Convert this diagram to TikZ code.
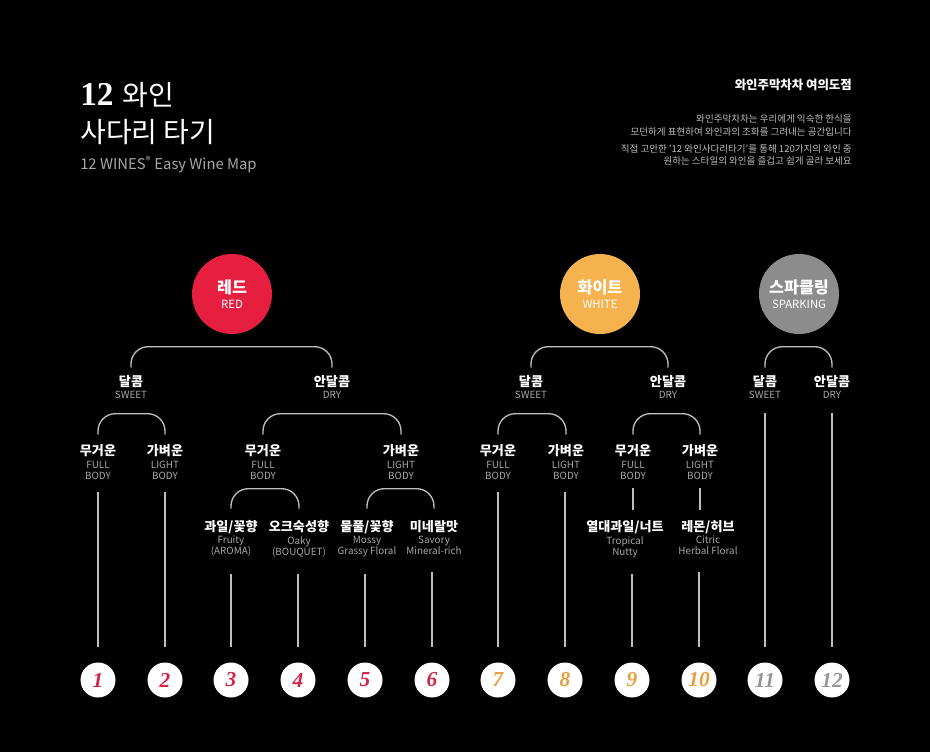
\documentclass[tikz,border=0pt]{standalone}
\usepackage{fontspec}
\setmainfont{Noto Sans CJK KR}
\newfontfamily\numfont{Liberation Serif}

\definecolor{winered}{RGB}{230,30,64}
\definecolor{wineorange}{RGB}{246,178,78}
\definecolor{winegray}{RGB}{140,140,140}
\definecolor{numred}{RGB}{214,36,72}
\definecolor{numorange}{RGB}{232,160,60}
\definecolor{numgray}{RGB}{150,150,150}
\definecolor{wiregray}{RGB}{190,190,190}
\definecolor{engray}{RGB}{168,168,168}
\definecolor{notegray}{RGB}{188,188,188}

\begin{document}
\begin{tikzpicture}[x=0.75pt, y=-0.75pt,
    wine/.style={circle, minimum size=60pt, inner sep=0pt, text=white, align=center},
    kr/.style={font=\bfseries\fontsize{9.8}{10}\selectfont, text=white, anchor=base,
      inner sep=0pt, text height=7pt, text depth=1pt},
    en/.style={font=\fontsize{7.4}{8.3}\selectfont, text=engray, align=center,
      anchor=north, inner sep=0pt},
    num/.style={circle, fill=white, minimum size=26.25pt, inner sep=0pt, outer sep=11.6pt,
      font=\numfont\bfseries\itshape\fontsize{16}{16}\selectfont},
    wire/.style={draw=wiregray, line width=1pt},
    arch/.style={wire, rounded corners=13pt, shorten <=#1, shorten >=#1},
    stem/.style={wire, shorten <=#1}]

  % Black page
  \fill [black] (0,0) rectangle (930,752);
  \useasboundingbox (0,0) rectangle (930,752);

  % Title block
  \node [anchor=base west, inner sep=0pt, text=white, font=\fontsize{21}{22}\selectfont] (title) at (80,106)
    {{\numfont\bfseries\fontsize{25}{25}\selectfont 12}\hspace{2pt} 와인};
  \node [anchor=base west, inner sep=0pt, text=white, font=\fontsize{21}{22}\selectfont] (title2) at (80,143) {사다리 타기};
  \node [anchor=base west, inner sep=0pt, text=engray, font=\fontsize{11.1}{12}\selectfont] (subtitle) at (80,170)
    {12 WINES\textsuperscript{®} Easy Wine Map};

  % Shop note, right aligned
  \node [anchor=base east, inner sep=0pt, text=white, font=\bfseries\fontsize{9.3}{10}\selectfont] (shop) at (852,90) {와인주막차차 여의도점};
  \foreach \n/\y/\txt in {
      note1/123/{와인주막차차는 우리에게 익숙한 한식을},
      note2/136/{모던하게 표현하여 와인과의 조화를 그려내는 공간입니다},
      note3/153/{직접 고안한 '12 와인사다리타기'를 통해 120가지의 와인 중},
      note4/165/{원하는 스타일의 와인을 즐겁고 쉽게 골라 보세요}} {
    \node [anchor=base east, inner sep=0pt, text=notegray, font=\fontsize{7.15}{8}\selectfont] (\n) at (852,\y) {\txt};
  }

  % Wine type circles
  \node [wine, fill=winered] (red) at (232,294)
    {{\bfseries\fontsize{12.2}{12}\selectfont 레드}\\[-1pt]{\fontsize{8.5}{10}\selectfont RED}};
  \node [wine, fill=wineorange] (white) at (600,294)
    {{\bfseries\fontsize{12.2}{12}\selectfont 화이트}\\[-1pt]{\fontsize{8.5}{10}\selectfont WHITE}};
  \node [wine, fill=winegray] (spark) at (799,294)
    {{\bfseries\fontsize{12.2}{12}\selectfont 스파클링}\\[-1pt]{\fontsize{8.5}{10}\selectfont SPARKING}};

  % First split: sweet / dry
  \foreach \n/\x/\ko/\en in {rs/131/달콤/SWEET, rd/332/안달콤/DRY,
      ws/531/달콤/SWEET, wd/668/안달콤/DRY,
      ss/765/달콤/SWEET, sd/832/안달콤/DRY} {
    \node [kr] (\n) at (\x,386) {\ko};
    \node [en] (\n-en) at (\x,391) {\en};
  }

  % Second split: full / light body
  \foreach \n/\x/\ko/\en in {rsf/98/무거운/{FULL\\BODY}, rsl/165/가벼운/{LIGHT\\BODY},
      rdf/263/무거운/{FULL\\BODY}, rdl/401/가벼운/{LIGHT\\BODY},
      wsf/498/무거운/{FULL\\BODY}, wsl/566/가벼운/{LIGHT\\BODY},
      wdf/633/무거운/{FULL\\BODY}, wdl/700/가벼운/{LIGHT\\BODY}} {
    \node [kr] (\n) at (\x,455) {\ko};
    \node [en] (\n-en) at (\x,461) {\en};
  }

  % Third split: aroma
  \foreach \n/\x/\ko/\en in {t3/231/{과일/꽃향}/{Fruity\\(AROMA)}, t4/299/오크숙성향/{Oaky\\(BOUQUET)},
      t5/367/{물풀/꽃향}/{Mossy\\Grassy Floral}, t6/434/미네랄맛/{Savory\\Mineral-rich},
      t9/625/{열대과일/너트}/{Tropical\\Nutty}, t10/708/{레몬/허브}/{Citric\\Herbal Floral}} {
    \node [kr] (\n) at (\x,531) {\ko};
    \node [en] (\n-en) at (\x,536) {\en};
  }

  % Numbered ends
  \foreach \i/\x/\c in {1/98/numred, 2/165/numred, 3/231/numred, 4/298/numred,
      5/365/numred, 6/432/numred, 7/498/numorange, 8/565/numorange,
      9/632/numorange, 10/699/numorange, 11/765/numgray, 12/832/numgray} {
    \node [num, text=\c] (n\i) at (\x,680) {\i};
  }

  % Arches between sibling labels
  \foreach \a/\b/\s/\h in {rs/rd/6.5pt/29.7, ws/wd/6.5pt/29.7, ss/sd/6.5pt/29.7,
      rsf/rsl/8pt/31.7, rdf/rdl/8pt/31.7, wsf/wsl/8pt/31.7, wdf/wdl/8pt/31.7,
      t3/t4/9.5pt/32.7, t5/t6/9.5pt/32.7} {
    \draw [arch=\s] (\a.north) -- ++(0,-\h) -| (\b.north);
  }

  % Single links under the white dry branch
  \draw [wire, shorten <=6pt, shorten >=8.8pt] (wdf-en.south) -- (wdf-en.south |- t9.north);
  \draw [wire, shorten <=6pt, shorten >=8.8pt] (wdl-en.south) -- (wdl-en.south |- t10.north);

  % Stems down to the numbers
  \foreach \e/\n/\s in {rsf-en/n1/9pt, rsl-en/n2/9pt, t3-en/n3/12.5pt, t4-en/n4/12.5pt,
      t5-en/n5/12.5pt, t6-en/n6/12.5pt, wsf-en/n7/9pt, wsl-en/n8/9pt,
      t9-en/n9/12.5pt, t10-en/n10/12.5pt, ss-en/n11/10.5pt, sd-en/n12/10.5pt} {
    \draw [stem=\s] (\n.north |- \e.south) -- (\n.north);
  }
\end{tikzpicture}
\end{document}
